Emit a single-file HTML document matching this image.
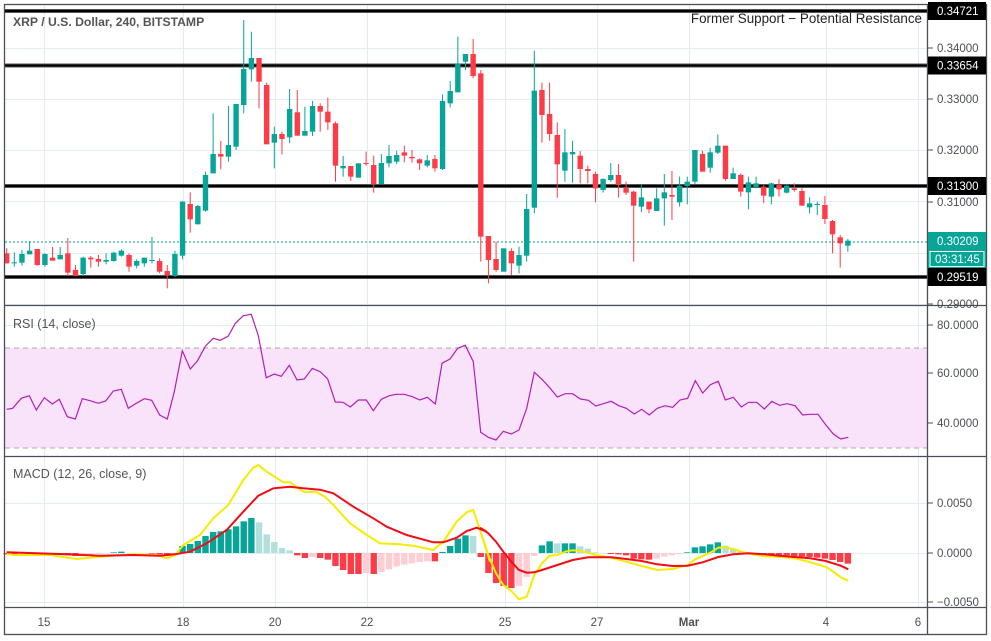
<!DOCTYPE html>
<html><head><meta charset="utf-8"><style>
html,body{margin:0;padding:0;background:#fff;}
svg{display:block;font-family:"Liberation Sans",sans-serif;}
</style></head><body>
<svg id="s" width="991" height="641" viewBox="0 0 991 641" xmlns="http://www.w3.org/2000/svg">
<rect x="0" y="0" width="991" height="641" fill="#fff"/>
<g id="grid" stroke="#e2ecf3" stroke-width="1"></g>
<rect x="5" y="348" width="922" height="100" fill="#f8e3fb"/>
<g stroke="#aaa" stroke-dasharray="5,4" stroke-width="1">
<line x1="5" y1="348" x2="927" y2="348"/><line x1="5" y1="448" x2="927" y2="448"/>
</g>
<g id="lv"></g>
<line x1="5" y1="242" x2="927" y2="242" stroke="#089981" stroke-dasharray="2,2" stroke-width="1"/>
<g id="c"></g>
<g id="h"></g>
<polyline id="rsi" fill="none" stroke="#b21fb8" stroke-width="1.2"/>
<polyline id="my" fill="none" stroke="#f5ec00" stroke-width="2"/>
<polyline id="ms" fill="none" stroke="#f20c16" stroke-width="2"/>
<g fill="none" stroke="#4c4f57" stroke-width="1.3">
<rect x="4.5" y="4.5" width="982" height="630"/>
<line x1="927.5" y1="4" x2="927.5" y2="635"/>
<line x1="4" y1="305.5" x2="987" y2="305.5"/>
<line x1="4" y1="456.5" x2="987" y2="456.5"/>
<line x1="4" y1="607.5" x2="987" y2="607.5"/>
</g>
<g id="ax" font-size="11.5" fill="#4c4f57"></g>
<text x="13" y="26" font-size="12.2" fill="#555" font-weight="bold">XRP / U.S. Dollar, 240, BITSTAMP</text>
<text x="922" y="23" font-size="13.4" fill="#222" text-anchor="end">Former Support − Potential Resistance</text>
<text x="13" y="328" font-size="12.5" fill="#555">RSI (14, close)</text>
<text x="13" y="478" font-size="12.5" fill="#555">MACD (12, 26, close, 9)</text>
</svg>
<script>
var NS="http://www.w3.org/2000/svg";
function el(p,t,a,txt){var e=document.createElementNS(NS,t);for(var k in a)e.setAttribute(k,a[k]);if(txt!==undefined)e.textContent=txt;document.getElementById(p).appendChild(e);return e;}
[44,183,275,367,505,597,689,826,918].forEach(function(x){el("grid","line",{x1:x+.5,y1:5,x2:x+.5,y2:607});});
[48,99,150,201,253,304,325,373,423,503,553,602].forEach(function(y){el("grid","line",{x1:5,y1:y+.5,x2:927,y2:y+.5});});
[11,65.5,186,277].forEach(function(y){el("lv","rect",{x:5,y:y-2,width:922,height:4,fill:"#555"});el("lv","rect",{x:5,y:y-1,width:922,height:2,fill:"#000"});});
var C=[[760,790,745,790,'r'],[787,790,757,800,'g'],[762,788,750,797,'g'],[752,763,723,763,'g'],[747,795,747,797,'r'],[762,795,760,800,'g'],[773,782,741,782,'r'],[765,778,741,778,'g'],[760,818,714,828,'r'],[810,828,795,828,'r'],[773,822,770,828,'g'],[773,778,768,803,'r'],[777,785,765,800,'r'],[780,785,760,793,'g'],[758,783,755,785,'g'],[752,767,748,770,'g'],[765,800,760,815,'r'],[783,797,778,805,'g'],[773,790,773,800,'g'],[780,782,711,790,'g'],[783,815,775,820,'r'],[813,825,795,865,'r'],[762,828,752,832,'g'],[605,767,603,778,'g'],[612,658,577,698,'r'],[618,673,615,673,'g'],[525,632,515,635,'g'],[462,520,340,520,'g'],[462,470,423,508,'r'],[435,470,318,485,'g'],[312,440,312,450,'g'],[207,315,60,340,'g'],[174,208,95,245,'g'],[174,245,174,325,'r'],[255,433,248,433,'r'],[402,428,380,505,'g'],[402,417,395,463,'r'],[327,412,267,430,'g'],[337,407,270,407,'r'],[393,407,320,407,'g'],[318,395,303,408,'g'],[318,335,310,395,'r'],[335,367,293,390,'r'],[370,497,365,545,'r'],[498,505,468,530,'g'],[498,530,498,543,'r'],[490,533,490,533,'g'],[489,492,455,497,'r'],[495,552,467,578,'r'],[489,552,462,552,'g'],[468,490,435,502,'g'],[465,485,452,492,'g'],[457,467,437,487,'r'],[471,475,450,488,'r'],[478,490,475,510,'r'],[481,497,465,502,'g'],[477,505,465,515,'r'],[303,507,283,510,'g'],[273,310,243,322,'g'],[190,277,110,277,'g'],[162,185,162,210,'g'],[162,228,117,235,'r'],[220,710,210,785,'r'],[708,780,708,850,'r'],[777,810,725,815,'r'],
[745,815,745,815,'g'],[753,790,745,825,'r'],[765,797,740,820,'g'],[627,767,582,785,'g'],[272,623,152,640,'g'],[270,345,248,428,'r'],[342,402,248,422,'r'],[405,493,367,593,'r'],[457,512,387,545,'g'],[456,463,422,548,'g'],[467,507,453,550,'r'],[507,513,497,550,'r'],[522,565,515,607,'r'],[537,570,535,578,'g'],[525,540,489,545,'g'],[525,555,492,593,'r'],[563,578,545,585,'r'],[575,617,572,785,'r'],[592,620,553,637,'g'],[605,628,605,640,'r'],[595,633,565,633,'g'],[577,595,522,677,'g'],[585,590,513,660,'r'],[557,607,530,620,'g'],[545,558,530,613,'g'],[450,545,450,552,'g'],[462,515,452,515,'r'],[457,503,443,518,'g'],[437,458,403,462,'g'],[437,537,437,542,'r'],[520,537,503,537,'g'],[525,575,520,590,'r'],[547,577,530,628,'g'],[550,562,530,565,'g'],[560,587,553,610,'r'],[550,590,548,613,'g'],[555,568,538,590,'r'],[557,578,553,580,'g'],[565,570,550,575,'r'],[573,617,563,617,'r'],[610,622,592,640,'g'],[612,615,605,645,'g'],[615,657,588,672,'r'],[663,703,660,760,'r'],[712,730,705,803,'r'],[722,737,717,755,'g']];
function X(k){return 6.67+k*7.647;}
C.forEach(function(c,i){var x=X(i),col=c[4]=='g'?'#07a597':'#ff3b47';
el("c","rect",{x:x-0.5,y:c[2]/3,width:1,height:Math.max(1,(c[3]-c[2])/3),fill:col});
el("c","rect",{x:x-2.7,y:c[0]/3,width:5.4,height:Math.max(1,(c[1]-c[0])/3),fill:col});});
var H=[297,297,296,296,296,297,298,298,300,302,300,298,296,294,291,289,292,293,292,295,297,299,296,272,266,257,242,230,228,222,213,198,188,201,237,260,278,285,300,308,305,308,313,332,344,356,356,353,356,350,342,333,328,324,320,318,318,290,272,250,240,242,305,353,383,
392,398,392,365,302,270,258,264,264,264,273,280,291,292,296,297,300,310,312,313,310,304,300,296,291,276,273,267,261,271,280,290,292,296,297,298,300,300,302,304,305,307,310,314,320,325];
var prev=0;
H.forEach(function(v,i){var val=293-v,col;
if(val>=0){col=(val>=prev)?'#07a597':'#b2dfdb';}else{col=(val<=prev)?'#ff3b47':'#ffcdd2';}
prev=val;var y0=553,hh=Math.abs(val)/3;if(hh<0.5)return;
el("h","rect",{x:X(i)-3.2,y:val>0?y0-hh:y0,width:6.4,height:hh,fill:col});});
function pl(id,pts,ox,oy){document.getElementById(id).setAttribute("points",pts.map(function(p){return (ox+p[0]/3).toFixed(1)+","+(oy+p[1]/3).toFixed(1);}).join(" "));}
var R1=[[20,328],[38,325],[64,295],[88,287],[109,330],[133,293],[157,312],[178,298],[202,350],[226,357],[247,296],[270,302],[295,310],[317,303],[340,273],[364,268],[385,325],[409,310],[433,296],[455,301],[479,345],[502,357],[523,275],[547,152],[571,207],[592,183],[617,137],[640,115],[661,121],[685,108],[706,70],[730,47],[754,43],[775,107],[799,233],[823,222],[844,229],[868,196],[891,240],[913,237],[937,205],[961,215],[983,237],[1006,306],[1029,307],[1051,321],[1075,300],[1099,300],[1120,332],[1144,298],[1168,287],[1189,283],[1213,283],[1237,290],[1259,300],[1282,292],[1306,312],[1326,190],[1350,177],[1373,145],[1396,136],[1420,185],[1442,397],[1465,412],[1488,420]];
var R2=[[48,420],[70,394],[94,402],[117,390],[140,325],[163,217],[186,238],[208,262],[232,291],[256,281],[278,281],[301,297],[325,301],[347,318],[370,311],[394,304],[416,317],[439,325],[463,342],[485,328],[508,345],[532,325],[555,317],[578,322],[600,300],[623,295],[646,242],[668,279],[691,254],[715,244],[736,300],[760,292],[784,321],[806,307],[830,307],[853,327],[875,304],[899,316],[922,311],[945,317],[968,345],[991,343],[1014,343],[1037,374],[1060,402],[1082,417],[1105,412]];
pl("rsi",R1.concat(R2.map(function(p){return [p[0]+1440,p[1]];})),0,300);
var Y1=[[20,297],[40,300],[110,300],[150,300],[230,312],[300,305],[340,302],[400,298],[470,300],[500,310],[525,300],[550,270],[600,240],[640,190],[685,150],[730,75],[760,38],[775,30],[800,50],[850,82],[870,82],[910,110],[950,112],[975,125],[1000,150],[1050,205],[1100,240],[1140,265],[1200,268],[1240,272],[1300,285],[1330,260],[1370,200],[1400,172],[1420,165],[1440,225],[1470,320]];
var Y2=[[0,225],[25,300],[48,355],[70,390],[94,408],[117,433],[140,425],[163,360],[186,325],[208,303],[232,300],[256,290],[278,286],[301,288],[325,293],[347,300],[394,308],[439,320],[485,333],[532,345],[578,342],[623,330],[646,313],[691,293],[715,278],[736,277],[760,282],[784,290],[806,296],[853,304],[899,306],[945,310],[991,322],[1037,335],[1060,350],[1082,367],[1105,377]];
var S1=[[20,292],[110,295],[200,298],[300,302],[400,300],[480,302],[525,298],[570,290],[620,265],[680,225],[730,170],[775,122],[820,100],[870,95],[910,100],[960,104],[1000,115],[1060,155],[1120,190],[1160,215],[1220,240],[1300,262],[1330,262],[1370,248],[1400,228],[1430,218],[1460,230]];
var S2=[[0,218],[25,235],[48,260],[70,290],[94,320],[117,345],[140,353],[163,352],[186,345],[232,330],[278,315],[325,307],[394,307],[439,312],[485,318],[532,328],[578,333],[623,332],[668,322],[715,306],[760,298],[806,295],[853,298],[899,302],[945,306],[991,310],[1037,318],[1082,332],[1105,343]];
function sh(a){return a.map(function(p){return [p[0]+1440,p[1]];});}
pl("my",Y1.concat(sh(Y2)),0,455);
pl("ms",S1.concat(sh(S2)),0,455);
function lab(y,t){el("ax","line",{x1:928,y1:y,x2:933,y2:y,stroke:"#4c4f57"});el("ax","text",{x:937,y:y+4},t);}
[[48,"0.34000"],[99,"0.33000"],[150,"0.32000"],[202,"0.31000"],[304,"0.29000"],[325,"80.0000"],[373,"60.0000"],[423,"40.0000"],[503,"0.0050"],[553,"0.0000"],[602,"−0.0050"]].forEach(function(a){lab(a[0],a[1]);});
function box(y,t,bg){el("ax","rect",{x:928,y:y-9,width:58,height:18,fill:bg});el("ax","text",{x:937,y:y+4,fill:"#fff"},t);}
box(11,"0.34721","#000");box(65.5,"0.33654","#000");box(186,"0.31300","#000");box(277,"0.29519","#000");
box(241,"0.30209","#07a597");
el("ax","rect",{x:928,y:250,width:58,height:18,fill:"#07a597"});
el("ax","rect",{x:930,y:251.5,width:54,height:15,fill:"none",stroke:"#fff","stroke-width":1});
el("ax","text",{x:935,y:263,fill:"#fff"},"03:31:45");
[[44,"15"],[183,"18"],[275,"20"],[367,"22"],[505,"25"],[597,"27"],[689,"Mar"],[826,"4"],[918,"6"]].forEach(function(a){var t=el("ax","text",{x:a[0],y:626,"text-anchor":"middle"},a[1]);if(a[1]=="Mar")t.setAttribute("font-weight","bold");});
</script>
</body></html>
